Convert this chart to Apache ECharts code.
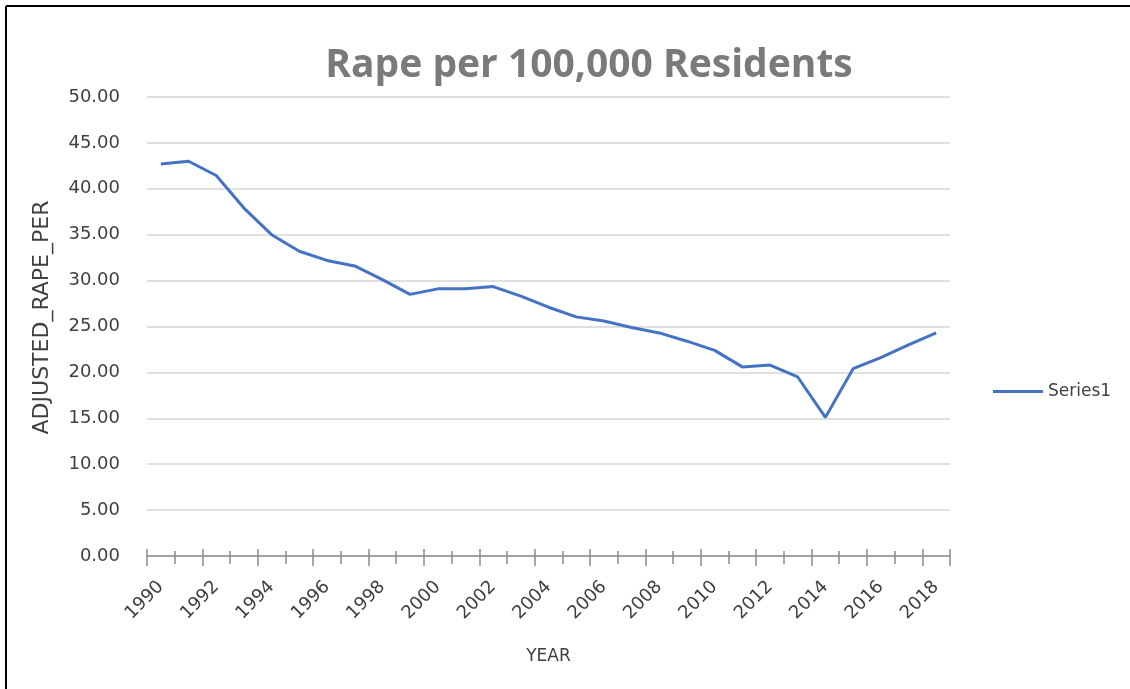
<!DOCTYPE html>
<html>
<head>
<meta charset="utf-8">
<title>Rape per 100,000 Residents</title>
<script src="https://cdn.jsdelivr.net/npm/echarts@6/dist/echarts.min.js"></script>
<style>
  html, body { margin: 0; padding: 0; background: #fff; }
  #chart { width: 1130px; height: 689px; }
</style>
</head>
<body>
<div id="chart"></div>
<script>
// Years on the category axis
const years = [
  "1990","1991","1992","1993","1994","1995","1996","1997","1998","1999",
  "2000","2001","2002","2003","2004","2005","2006","2007","2008","2009",
  "2010","2011","2012","2013","2014","2015","2016","2017","2018"
];

// ADJUSTED_RAPE_PER
const series1 = [
  42.7, 43.0, 41.45, 37.9, 35.0, 33.2, 32.2, 31.6, 30.1, 28.5,
  29.1, 29.1, 29.35, 28.3, 27.1, 26.05, 25.6, 24.9, 24.3, 23.4,
  22.4, 20.6, 20.8, 19.5, 15.1, 20.4, 21.6, 23.0, 24.3
];

const yTicks = { min: 0, max: 50, interval: 5 };

(function(){
  const chart = echarts.init(document.getElementById("chart"));
  const font = "DejaVu Sans";
  const axisGray = "#8c8c8c";

  // shared bits for the stacked x axes (ticks cross the axis line like Excel)
  const baseX = {
    type: "category",
    data: years,
    boundaryGap: true,
    position: "bottom"
  };

  chart.setOption({
    animation: false,
    title: {
      text: "Rape per 100,000 Residents",
      left: 584, top: 41,
      textAlign: "center",
      textStyle: { fontFamily: "Open Sans", fontSize: 39, fontWeight: "bold", color: "#7a7a7a" }
    },
    legend: {
      left: 988, top: 378,
      icon: "rect",
      itemWidth: 50, itemHeight: 3,
      textStyle: { fontFamily: font, fontSize: 17, color: "#404040" },
      data: ["Series1"]
    },
    grid: { left: 147, right: 180, top: 97, bottom: 133 },
    xAxis: [
      Object.assign({}, baseX, {
        name: "YEAR",
        nameLocation: "middle",
        nameGap: 92,
        nameTextStyle: { fontFamily: font, fontSize: 17, color: "#404040" },
        axisLine: { show: true, lineStyle: { color: axisGray, width: 1.5 } },
        axisTick: { show: true, interval: 0, length: 8, lineStyle: { color: axisGray, width: 1.5 } },
        axisLabel: { interval: 1, rotate: 45, margin: 28, fontFamily: font, fontSize: 18, color: "#404040" }
      }),
      Object.assign({}, baseX, {
        axisLine: { show: false },
        axisTick: { show: true, inside: true, interval: 0, length: 5, lineStyle: { color: axisGray, width: 1.5 } },
        axisLabel: { show: false }
      }),
      Object.assign({}, baseX, {
        axisLine: { show: false },
        axisTick: { show: true, interval: 1, length: 10, lineStyle: { color: axisGray, width: 1.5 } },
        axisLabel: { show: false }
      }),
      Object.assign({}, baseX, {
        axisLine: { show: false },
        axisTick: { show: true, inside: true, interval: 1, length: 7, lineStyle: { color: axisGray, width: 1.5 } },
        axisLabel: { show: false }
      })
    ],
    yAxis: {
      type: "value",
      min: yTicks.min, max: yTicks.max, interval: yTicks.interval,
      name: "ADJUSTED_RAPE_PER",
      nameLocation: "middle",
      nameGap: 94,
      nameTextStyle: { fontFamily: font, fontSize: 22, color: "#404040", padding: [0, 0, 0, 18] },
      axisLine: { show: false },
      axisTick: { show: false },
      axisLabel: { margin: 27, fontFamily: font, fontSize: 18, color: "#404040",
                   formatter: v => v.toFixed(2) },
      splitLine: { lineStyle: { color: "#d6d6d6", width: 1.5 } }
    },
    series: [{
      name: "Series1",
      type: "line",
      data: series1,
      showSymbol: false,
      symbol: "none",
      lineStyle: { color: "#4472C4", width: 3 },
      itemStyle: { color: "#4472C4" }
    }],
    graphic: [
      { type: "line", shape: { x1: 6, y1: 6, x2: 1130, y2: 6 }, style: { stroke: "#000", lineWidth: 2 } },
      { type: "line", shape: { x1: 6, y1: 6, x2: 6, y2: 689 }, style: { stroke: "#000", lineWidth: 2 } }
    ]
  });

  window.addEventListener("resize", ()=>chart.resize());
})();
</script>
</body>
</html>
